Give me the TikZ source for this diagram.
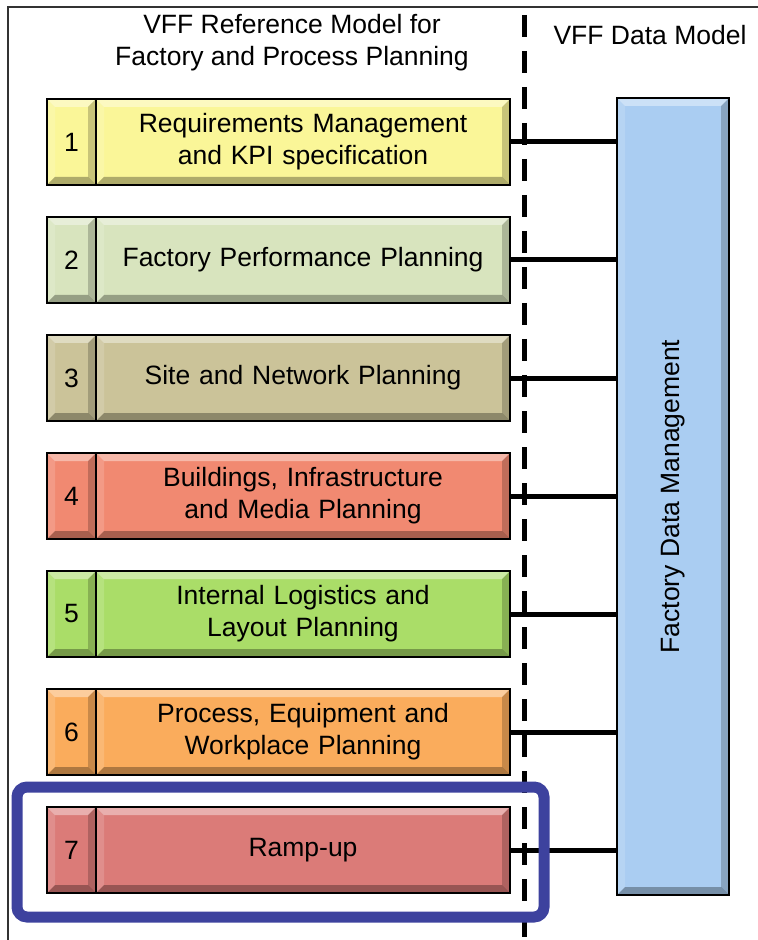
\documentclass[tikz,border=0pt]{standalone}
\usepackage{fontspec}
\setmainfont{Liberation Sans}
\usetikzlibrary{shapes,arrows,backgrounds,calc}
\definecolor{reqcol}{RGB}{250,246,152}
\definecolor{perfcol}{RGB}{216,228,190}
\definecolor{sitecol}{RGB}{203,195,153}
\definecolor{buildcol}{RGB}{241,137,113}
\definecolor{logcol}{RGB}{170,221,104}
\definecolor{proccol}{RGB}{250,172,92}
\definecolor{rampcol}{RGB}{219,123,120}
\definecolor{fdmcol}{RGB}{170,205,242}
\definecolor{hlcol}{RGB}{61,66,158}
\tikzstyle{bevel} = [path picture={
    \fill[white,opacity=.4] (path picture bounding box.north west) -- (path picture bounding box.north east)
      -- ($(path picture bounding box.north east)+(-4pt,-4pt)$) -- ($(path picture bounding box.north west)+(4pt,-4pt)$) -- cycle;
    \fill[white,opacity=.15] (path picture bounding box.north west) -- (path picture bounding box.south west)
      -- ($(path picture bounding box.south west)+(4pt,4pt)$) -- ($(path picture bounding box.north west)+(4pt,-4pt)$) -- cycle;
    \fill[black,opacity=.3] (path picture bounding box.south west) -- (path picture bounding box.south east)
      -- ($(path picture bounding box.south east)+(-4pt,4pt)$) -- ($(path picture bounding box.south west)+(4pt,4pt)$) -- cycle;
    \fill[black,opacity=.2] (path picture bounding box.north east) -- (path picture bounding box.south east)
      -- ($(path picture bounding box.south east)+(-4pt,4pt)$) -- ($(path picture bounding box.north east)+(-4pt,-4pt)$) -- cycle;
  }]
\tikzstyle{num} = [rectangle, draw, line width=0.8pt, bevel,
    minimum width=24.5pt, minimum height=43pt, inner sep=0pt]
\tikzstyle{stage} = [rectangle, draw, line width=0.8pt, bevel,
    text width=200pt, align=center, minimum width=207pt, minimum height=43pt, inner sep=0pt]
\tikzstyle{line} = [draw, line width=2.5pt]
\begin{document}
\begin{tikzpicture}[x=0.5pt, y=-0.5pt, node distance=59pt,
    every node/.style={font=\fontsize{13.25}{16}\selectfont}]
  \useasboundingbox (0,0) rectangle (758,940);
  \draw[black!80, line width=1pt] (758,7) -- (8,7) -- (8,940);

  % Place nodes
  \node[align=center] (reftitle) at (292,43) {VFF Reference Model for\\Factory and Process Planning};
  \node (datatitle) at (650,35) {VFF Data Model};

  \node [num, fill=reqcol] (n1) at (71.5,142) {1};
  \node [num, fill=perfcol, below of=n1] (n2) {2};
  \node [num, fill=sitecol, below of=n2] (n3) {3};
  \node [num, fill=buildcol, below of=n3] (n4) {4};
  \node [num, fill=logcol, below of=n4] (n5) {5};
  \node [num, fill=proccol, below of=n5] (n6) {6};
  \node [num, fill=rampcol, below of=n6] (n7) {7};

  \node [stage, fill=reqcol, right of=n1, node distance=115.75pt] (s1)
        {Requirements Management\\and KPI specification};
  \node [stage, fill=perfcol, right of=n2, node distance=115.75pt] (s2)
        {Factory Performance Planning};
  \node [stage, fill=sitecol, right of=n3, node distance=115.75pt] (s3)
        {Site and Network Planning};
  \node [stage, fill=buildcol, right of=n4, node distance=115.75pt] (s4)
        {Buildings, Infrastructure\\and Media Planning};
  \node [stage, fill=logcol, right of=n5, node distance=115.75pt] (s5)
        {Internal Logistics and\\Layout Planning};
  \node [stage, fill=proccol, right of=n6, node distance=115.75pt] (s6)
        {Process, Equipment and\\Workplace Planning};
  \node [stage, fill=rampcol, right of=n7, node distance=115.75pt] (s7)
        {Ramp-up};

  \node [rectangle, draw, line width=0.8pt, bevel, fill=fdmcol, minimum width=56pt,
    minimum height=398.5pt, inner sep=0pt] (fdm) at (673,496.5)
        {\rotatebox{90}{Factory Data Management}};

  \draw[line width=2.5pt, dash pattern=on 11pt off 7pt] (524,15) -- (524,940);

  \path [line] (s1.east) -- (s1.east -| fdm.west);
  \path [line] (s2.east) -- (s2.east -| fdm.west);
  \path [line] (s3.east) -- (s3.east -| fdm.west);
  \path [line] (s4.east) -- (s4.east -| fdm.west);
  \path [line] (s5.east) -- (s5.east -| fdm.west);
  \path [line] (s6.east) -- (s6.east -| fdm.west);
  \path [line] (s7.east) -- (s7.east -| fdm.west);

  \draw[hlcol, line width=5.5pt, rounded corners=5pt] (17,787) rectangle (544,917);
\end{tikzpicture}
\end{document}
